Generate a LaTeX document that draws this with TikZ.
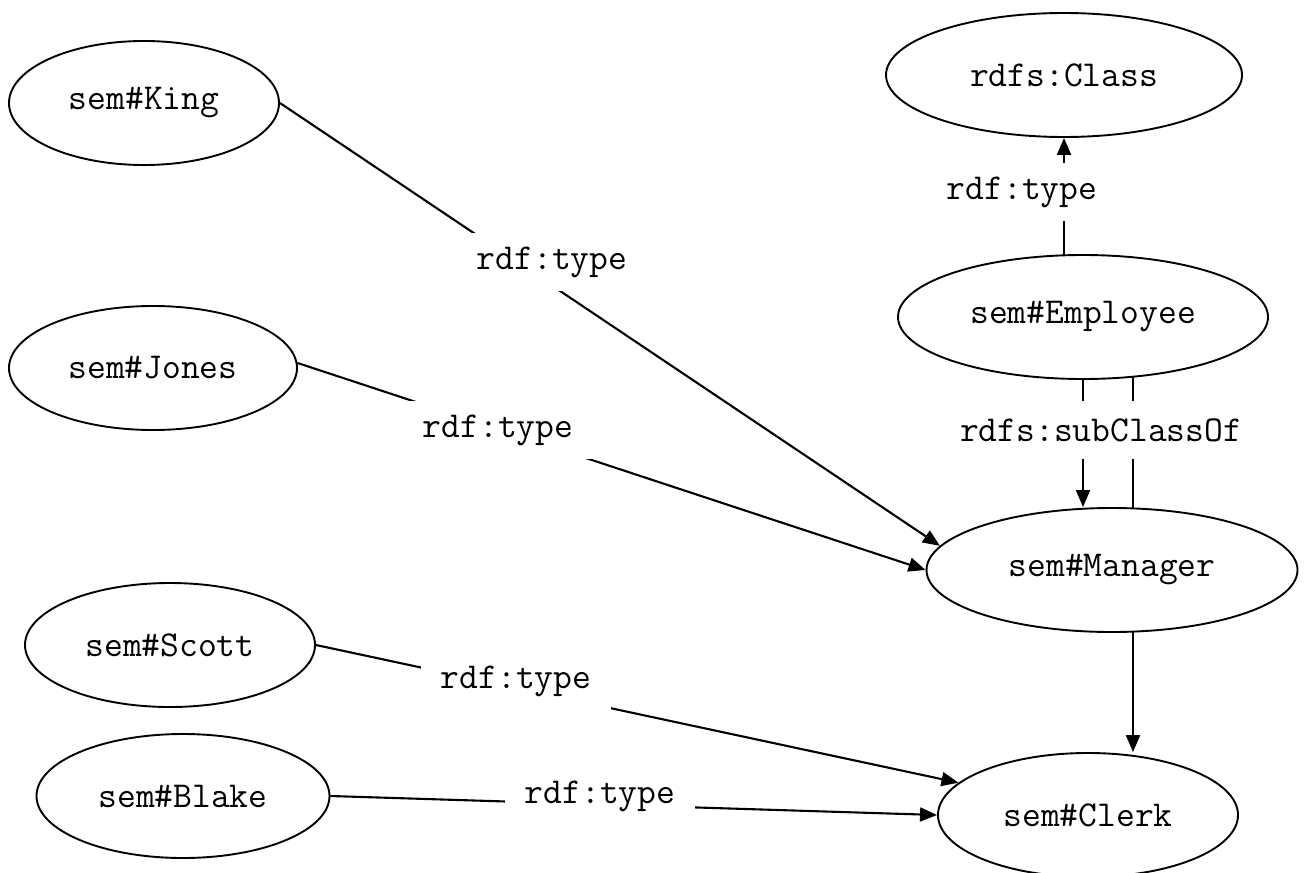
\documentclass[tikz,border=0pt]{standalone}
\usetikzlibrary{shapes.geometric,arrows.meta}
\pgfdeclarelayer{bg}
\pgfsetlayers{bg,main}
\begin{document}
\begin{tikzpicture}[x=1pt,y=-1pt,
  cls/.style={ellipse,draw,line width=1.9pt,fill=white,inner sep=0pt,
    font=\ttfamily\fontsize{36.5}{40}\selectfont},
  lbl/.style={fill=white,inner xsep=20pt,inner ysep=0pt,minimum height=58pt,
    font=\ttfamily\fontsize{36.5}{40}\selectfont},
  arr/.style={line width=2.1pt,-{Triangle[length=17pt,width=14pt]}},
  plainline/.style={line width=2.1pt}]
\useasboundingbox (0,0) rectangle (1308,872);
% classes
\node[cls,minimum width=270pt,minimum height=124pt] (king) at (144,103) {sem\#King};
\node[cls,minimum width=356pt,minimum height=124pt] (class) at (1064,75) {rdfs:Class};
\node[cls,minimum width=288pt,minimum height=124pt] (jones) at (153,368) {sem\#Jones};
\node[cls,minimum width=370pt,minimum height=124pt] (employee) at (1083,317) {sem\#Employee};
\node[cls,minimum width=371pt,minimum height=124pt] (manager) at (1112,570) {sem\#Manager};
\node[cls,minimum width=290pt,minimum height=124pt] (scott) at (170,645) {sem\#Scott};
\node[cls,minimum width=293pt,minimum height=124pt] (blake) at (183,796) {sem\#Blake};
\node[cls,minimum width=300pt,minimum height=124pt] (clerk) at (1088,815) {sem\#Clerk};
% labels
\node[lbl] (l1) at (552,262) {rdf:type};
\node[lbl] (l2) at (498,430) {rdf:type};
\node[lbl] (l3) at (516,681) {rdf:type};
\node[lbl] (l4) at (600,796) {rdf:type};
\node[lbl] (l5) at (1022,192) {rdf:type};
\node[lbl] (l6) at (1101,430) {rdfs:subClassOf};
% connectors
\begin{pgfonlayer}{bg}
\draw[arr] (king.east) -- (manager.172.6);
\draw[arr] (jones.2) -- (manager.west);
\draw[arr] (scott.east) -- (clerk.166);
\draw[arr] (blake.east) -- (clerk.west);
\draw[arr] (class.center |- employee.center) -- (class.south);
\draw[arr] (employee.center) -- (employee.center |- manager.north);
\draw[arr] ([xshift=50pt]employee.center) -- ([xshift=50pt]employee.center |- clerk.north);
\end{pgfonlayer}
\end{tikzpicture}
\end{document}
